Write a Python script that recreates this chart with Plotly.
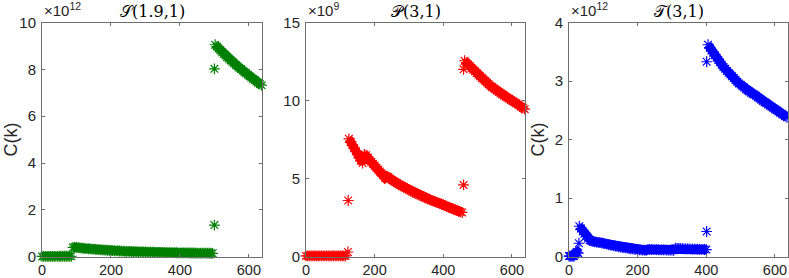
import plotly.graph_objects as go

# ---------------- data (values in units of the axis exponent) ----------------
# Panel 1: S(1.9,1), units of 1e12
s_k_a = list(range(0, 90, 5))
s_y_a = [0.01, 0.01, 0.01, 0.01, 0.01, 0.01, 0.01, 0.01, 0.01, 0.01,
         0.02, 0.02, 0.02, 0.02, 0.02, 0.02, 0.02, 0.02]
s_k_b = list(range(90, 500, 5))
s_y_b = [0.40, 0.41, 0.40, 0.39, 0.38, 0.37, 0.36, 0.35, 0.345, 0.34, 0.33, 0.325,
         0.32, 0.31, 0.305, 0.30, 0.295, 0.29, 0.285, 0.28, 0.275, 0.27, 0.265,
         0.26, 0.255, 0.25, 0.247, 0.243, 0.24, 0.237, 0.233, 0.23, 0.227,
         0.224, 0.221, 0.218, 0.215, 0.212, 0.21, 0.207, 0.205, 0.203, 0.20,
         0.198, 0.196, 0.194, 0.192, 0.19, 0.188, 0.186, 0.184, 0.182, 0.18,
         0.178, 0.177, 0.175, 0.174, 0.172, 0.171, 0.17, 0.168, 0.167, 0.165,
         0.164, 0.163, 0.162, 0.161, 0.16, 0.159, 0.158, 0.157, 0.156, 0.155,
         0.154, 0.153, 0.152, 0.151, 0.15, 0.149, 0.148, 0.147, 0.146]
s_k_out = [500, 500]
s_y_out = [1.35, 8.02]
s_k_c = list(range(502, 638, 5))
s_y_c = [9.05, 8.97, 8.89, 8.81, 8.73, 8.66, 8.59, 8.52, 8.45, 8.38, 8.32, 8.25,
         8.19, 8.13, 8.07, 8.01, 7.95, 7.89, 7.83, 7.77, 7.71, 7.65, 7.59, 7.54,
         7.48, 7.43, 7.37, 7.32]

# Panel 2: P(3,1), units of 1e9
p_k_a = list(range(0, 120, 5))
p_y_a = [0.05, 0.05, 0.05, 0.05, 0.05, 0.05, 0.05, 0.05, 0.05, 0.05,
         0.05, 0.05, 0.05, 0.05, 0.05, 0.05, 0.05, 0.05, 0.05, 0.05,
         0.05, 0.05, 0.05, 0.05]
p_k_out1 = [122, 123]
p_y_out1 = [0.3, 3.6]
p_k_b = list(range(125, 460, 5))
p_y_b = [7.55, 7.35, 7.15, 6.95, 6.75, 6.55, 6.35, 6.15, 6.0,
         6.55, 6.5, 6.35, 6.2, 6.08, 5.95, 5.83, 5.7, 5.58, 5.46, 5.35, 5.24,
         5.05, 5.15, 5.1, 5.0, 4.92,
         4.85, 4.78, 4.71, 4.64, 4.58, 4.52, 4.46, 4.4, 4.34, 4.28,
         4.22, 4.16, 4.11, 4.05, 4.0, 3.95, 3.9, 3.85, 3.8, 3.75,
         3.7, 3.66, 3.61, 3.57, 3.53, 3.49, 3.45, 3.41, 3.37, 3.33,
         3.27, 3.22, 3.18, 3.13, 3.09, 3.04, 3.0, 2.95, 2.91, 2.87, 2.83]
p_k_out2 = [459, 459]
p_y_out2 = [4.6, 12.0]
p_k_c = list(range(462, 638, 5))
p_y_c = [12.55, 12.43, 12.31, 12.2, 12.09, 11.98, 11.87, 11.76, 11.65, 11.55,
         11.45, 11.35, 11.25, 11.15, 11.05, 10.95, 10.87, 10.79, 10.71, 10.63,
         10.55, 10.47, 10.39, 10.32, 10.25, 10.18, 10.11, 10.04, 9.97, 9.9,
         9.83, 9.76, 9.69, 9.6, 9.52, 9.45]

# Panel 3: T(3,1), units of 1e12
t_k_a = [0, 3, 6, 9, 12, 15, 18, 21, 24, 27]
t_y_a = [0.01, 0.01, 0.01, 0.01, 0.01, 0.01, 0.05, 0.07, 0.08, 0.06]
t_k_out1 = [29]
t_y_out1 = [0.23]
t_k_b = list(range(30, 401, 5))
t_y_b = [0.52, 0.48, 0.43, 0.39, 0.35, 0.31, 0.28, 0.27, 0.26, 0.255, 0.25, 0.245,
         0.24, 0.235, 0.23,
         0.222, 0.214, 0.207, 0.2, 0.194, 0.188, 0.182, 0.176, 0.17, 0.165,
         0.16, 0.155, 0.15, 0.145, 0.14, 0.136, 0.132, 0.128, 0.124, 0.12,
         0.118, 0.116, 0.114, 0.112, 0.11,
         0.125, 0.124, 0.123, 0.122, 0.121, 0.12, 0.119, 0.118, 0.117, 0.116,
         0.115, 0.114, 0.113, 0.112, 0.111, 0.11,
         0.145, 0.143, 0.141, 0.139, 0.137, 0.135, 0.134, 0.133, 0.132, 0.131,
         0.13, 0.129, 0.128, 0.127, 0.126, 0.125, 0.124, 0.123, 0.122]
t_k_out2 = [401, 401]
t_y_out2 = [0.43, 3.33]
t_k_c = list(range(405, 638, 5))
t_y_c = [3.62, 3.57, 3.52, 3.48, 3.44, 3.40, 3.36, 3.32, 3.28, 3.24, 3.21, 3.17,
         3.14, 3.11, 3.08, 3.05, 3.02, 2.99, 2.96, 2.94, 2.91, 2.89, 2.86, 2.84,
         2.82, 2.80, 2.78, 2.77, 2.75, 2.72, 2.70, 2.68, 2.66, 2.64, 2.62, 2.60,
         2.58, 2.56, 2.54, 2.52, 2.50, 2.48, 2.46, 2.44, 2.42, 2.40, 2.38]

titles = ["\U0001D4AE(1.9,1)", "\U0001D4AB(3,1)", "\U0001D4AF(3,1)"]
exponents = ["12", "9", "12"]
colors = ["#008000", "#ff0000", "#0000ff"]
y_ranges = [[0, 10], [0, 15], [0, 4]]
y_ticks = [[0, 2, 4, 6, 8, 10], [0, 5, 10, 15], [0, 1, 2, 3, 4]]
x_ticks = [0, 200, 400, 600]
x_range = [0, 638]

# dense runs of markers (drawn as bands) and lone markers, per panel
bands = [
    [(s_k_a, s_y_a), (s_k_b, s_y_b), (s_k_c, s_y_c)],
    [(p_k_a, p_y_a), (p_k_b, p_y_b), (p_k_c, p_y_c)],
    [(t_k_a, t_y_a), (t_k_b, t_y_b), (t_k_c, t_y_c)],
]
singles = [
    [(s_k_out, s_y_out)],
    [(p_k_out1, p_y_out1), (p_k_out2, p_y_out2)],
    [(t_k_out1, t_y_out1), (t_k_out2, t_y_out2)],
]

W, H = 789, 278
x_dom = [[42 / W, 262 / W], [306 / W, 525 / W], [569 / W, 788 / W]]
y_dom = [1 - 256.7 / H, 1 - 22.5 / H]

fig = go.Figure()
ytick_font = dict(family="Liberation Sans, Arial, sans-serif", size=15, color="#262626")
xtick_font = dict(family="Liberation Sans, Arial, sans-serif", size=14.5, color="#262626")
axis_col = "#6e6e6e"
annotations = []
for i in range(3):
    sfx = "" if i == 0 else str(i + 1)
    # band segments: a thick stroke through the dense markers
    for xs, ys in bands[i]:
        fig.add_trace(go.Scatter(
            x=xs, y=ys, mode="lines", xaxis="x" + sfx, yaxis="y" + sfx,
            cliponaxis=False, showlegend=False, hoverinfo="skip",
            line=dict(color=colors[i], width=9),
        ))
    allx, ally = [], []
    for xs, ys in bands[i] + singles[i]:
        allx += xs
        ally += ys
    fig.add_trace(go.Scatter(
        x=allx, y=ally, mode="markers", xaxis="x" + sfx, yaxis="y" + sfx,
        cliponaxis=False, showlegend=False,
        marker=dict(symbol="asterisk-open", size=9, color=colors[i],
                    line=dict(color=colors[i], width=1.2)),
    ))
    common = dict(
        showline=True, linecolor=axis_col, linewidth=1, mirror="ticks",
        ticks="inside", ticklen=3, tickcolor=axis_col, showgrid=False,
        zeroline=False, automargin=False,
    )
    fig.layout["xaxis" + sfx] = dict(
        domain=x_dom[i], range=x_range, tickvals=x_ticks, anchor="y" + sfx,
        ticklabelstandoff=0, tickfont=xtick_font, **common,
    )
    fig.layout["yaxis" + sfx] = dict(
        domain=y_dom, range=y_ranges[i], tickvals=y_ticks[i], anchor="x" + sfx,
        ticklabelstandoff=2, tickfont=ytick_font, **common,
    )
    x0, x1 = x_dom[i]
    annotations.append(dict(
        text=titles[i], x=(x0 + x1) / 2, y=1 - 12 / H, xref="paper", yref="paper",
        showarrow=False, xanchor="center", yanchor="middle",
        font=dict(family="DejaVu Serif, Liberation Serif, serif", size=16, color="#000000"),
    ))
    annotations.append(dict(
        text="\u00d710<sup>" + exponents[i] + "</sup>", x=x0, y=1 - 21 / H,
        xref="paper", yref="paper", showarrow=False, xanchor="left", yanchor="bottom",
        font=dict(family="Liberation Sans, Arial, sans-serif", size=15, color="#262626"),
    ))

for i in (0, 2):
    annotations.append(dict(
        text="C(k)", x=x_dom[i][0] - 31 / W, y=(y_dom[0] + y_dom[1]) / 2,
        xref="paper", yref="paper", showarrow=False, textangle=-90,
        xanchor="center", yanchor="middle",
        font=dict(family="Liberation Sans, Arial, sans-serif", size=18, color="#262626"),
    ))

fig.update_layout(
    width=W, height=H, margin=dict(l=0, r=0, t=0, b=0),
    paper_bgcolor="white", plot_bgcolor="white",
    annotations=annotations,
)
fig.write_html("out.html", config={"displayModeBar": False},
               post_script="document.body.style.margin='0';")
